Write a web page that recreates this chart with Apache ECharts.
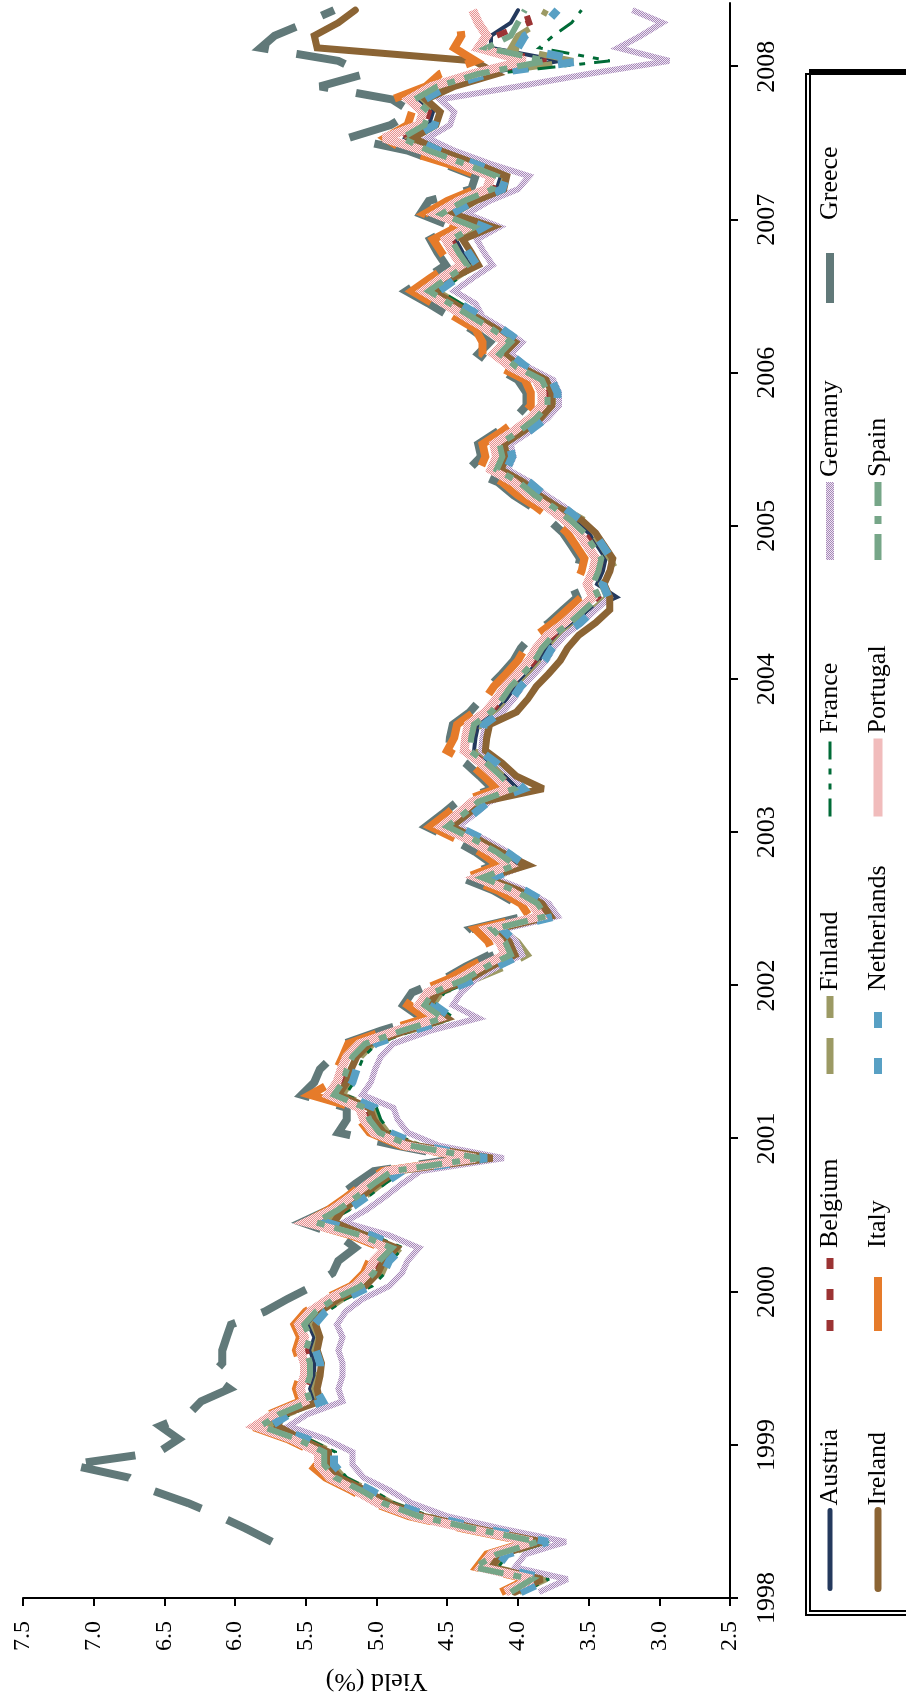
<!DOCTYPE html>
<html><head><meta charset="utf-8">
<script src="https://cdn.jsdelivr.net/npm/echarts@6/dist/echarts.min.js"></script>
<style>
html,body{margin:0;padding:0;width:906px;height:1702px;overflow:hidden;background:#fff;}
#chart{position:absolute;left:0;top:0;width:1702px;height:906px;transform-origin:0 0;transform:translateY(1702px) rotate(-90deg);}
</style></head>
<body><div id="chart"></div>
<script>
// ---- data (monthly yields, %, Jan 1998 .. May 2008) ----
const countries = ['Austria','Belgium','Finland','France','Germany','Greece','Ireland','Italy','Netherlands','Portugal','Spain'];
const firstMonth = '1998-01';
const yTickLabels = ['2.5','3.0','3.5','4.0','4.5','5.0','5.5','6.0','6.5','7.0','7.5'];

const austria = [4.02,3.83,4.19,4.12,3.83,4.28,4.67,4.92,5.08,5.26,
5.34,5.34,5.53,5.79,5.66,5.44,5.47,5.44,5.44,5.47,
5.44,5.48,5.40,5.27,5.08,4.99,4.95,4.86,5.08,5.44,
5.24,5.11,4.99,4.86,4.25,4.73,4.95,5.02,5.05,5.27,
5.21,5.18,5.14,5.05,4.79,4.50,4.63,4.57,4.35,4.19,
4.02,4.06,4.15,3.74,3.83,3.99,4.22,3.99,4.12,4.28,
4.47,4.35,4.25,4.00,4.09,4.19,4.31,4.30,4.28,4.16,
4.08,4.02,3.93,3.85,3.80,3.72,3.60,3.50,3.30,3.44,
3.40,3.38,3.44,3.50,3.60,3.72,3.85,3.96,4.12,4.08,
4.10,3.96,3.84,3.76,3.76,3.80,3.98,4.10,4.02,4.15,
4.30,4.45,4.60,4.47,4.33,4.39,4.44,4.28,4.51,4.35,
4.15,4.12,4.35,4.60,4.79,4.63,4.60,4.70,4.54,4.25,
3.70,4.19,4.19,4.05,4.00];

const belgium = [4.05,3.86,4.22,4.15,3.86,4.31,4.70,4.95,5.11,5.29,
5.37,5.37,5.56,5.82,5.69,5.47,5.50,5.47,5.47,5.50,
5.47,5.51,5.43,5.30,5.11,5.02,4.98,4.89,5.11,5.43,
5.27,5.14,5.02,4.89,4.28,4.76,4.98,5.05,5.08,5.30,
5.24,5.21,5.17,5.08,4.82,4.53,4.66,4.60,4.38,4.22,
4.05,4.09,4.18,3.80,3.86,4.02,4.25,4.02,4.15,4.31,
4.50,4.38,4.28,4.03,4.12,4.22,4.34,4.33,4.31,4.19,
4.11,4.05,3.96,3.88,3.83,3.75,3.63,3.53,3.43,3.47,
3.43,3.41,3.47,3.53,3.63,3.75,3.88,3.99,4.15,4.11,
4.13,3.99,3.87,3.79,3.79,3.83,4.01,4.13,4.05,4.18,
4.33,4.48,4.63,4.50,4.36,4.42,4.47,4.31,4.54,4.38,
4.18,4.15,4.38,4.63,4.82,4.66,4.63,4.73,4.57,4.28,
3.80,4.25,4.15,3.92,3.95];

const finland = [3.99,3.80,4.16,4.09,3.80,4.25,4.64,4.89,5.05,5.23,
5.31,5.31,5.50,5.76,5.63,5.41,5.44,5.41,5.41,5.44,
5.41,5.45,5.37,5.24,5.05,4.96,4.92,4.83,5.05,5.37,
5.21,5.08,4.96,4.83,4.22,4.70,4.92,4.99,5.02,5.24,
5.18,5.15,5.11,5.02,4.76,4.47,4.60,4.54,4.30,4.08,
3.93,4.00,4.12,3.74,3.80,3.96,4.19,3.96,4.09,4.25,
4.44,4.32,4.22,3.97,4.06,4.16,4.28,4.27,4.25,4.13,
4.05,3.99,3.90,3.82,3.77,3.69,3.57,3.47,3.37,3.41,
3.30,3.35,3.41,3.47,3.53,3.69,3.82,3.93,4.09,4.05,
4.07,3.93,3.81,3.73,3.73,3.77,3.95,4.07,3.99,4.12,
4.27,4.42,4.57,4.44,4.30,4.36,4.41,4.25,4.48,4.32,
4.12,4.09,4.32,4.57,4.76,4.60,4.57,4.67,4.51,4.22,
3.61,4.05,4.00,3.85,3.80];

const france = [3.97,3.78,4.14,4.07,3.78,4.23,4.62,4.87,5.03,5.21,
5.29,5.29,5.48,5.74,5.61,5.39,5.42,5.39,5.39,5.42,
5.39,5.43,5.35,5.22,5.03,4.94,4.90,4.81,5.03,5.35,
5.19,5.06,4.94,4.81,4.20,4.68,4.90,4.97,5.00,5.22,
5.16,5.13,5.09,5.00,4.74,4.45,4.58,4.52,4.30,4.14,
3.97,4.01,4.10,3.72,3.78,3.94,4.17,3.94,4.07,4.23,
4.42,4.30,4.20,3.95,4.04,4.14,4.26,4.25,4.23,4.11,
4.03,3.97,3.88,3.80,3.75,3.67,3.55,3.45,3.35,3.39,
3.35,3.33,3.39,3.45,3.55,3.67,3.80,3.91,4.07,4.03,
4.05,3.91,3.79,3.71,3.71,3.75,3.93,4.05,3.97,4.10,
4.25,4.40,4.55,4.42,4.28,4.34,4.39,4.23,4.46,4.30,
4.10,4.07,4.30,4.55,4.74,4.58,4.55,4.65,4.49,4.18,
3.35,3.85,3.75,3.62,3.55];

const germany = [3.85,3.65,4.02,3.95,3.66,4.11,4.50,4.75,4.91,5.09,
5.17,5.17,5.36,5.62,5.49,5.24,5.27,5.24,5.24,5.27,
5.24,5.28,5.22,5.10,4.91,4.82,4.78,4.70,4.91,5.23,
5.07,4.94,4.82,4.69,4.10,4.56,4.78,4.85,4.88,5.10,
5.04,5.01,4.97,4.88,4.62,4.28,4.46,4.40,4.30,4.14,
3.97,4.01,4.10,3.72,3.78,3.94,4.17,3.94,4.07,4.23,
4.42,4.30,4.20,3.95,4.04,4.14,4.26,4.25,4.23,4.11,
4.03,3.97,3.88,3.80,3.75,3.67,3.55,3.45,3.35,3.39,
3.35,3.33,3.39,3.45,3.55,3.67,3.80,3.91,4.07,4.03,
4.05,3.91,3.79,3.71,3.71,3.75,3.93,4.05,3.97,4.10,
4.25,4.30,4.45,4.32,4.18,4.24,4.29,4.13,4.36,4.20,
4.00,3.92,4.20,4.45,4.64,4.48,4.45,4.55,4.00,3.50,
2.93,3.29,3.13,2.98,3.19];

const greece = [null,null,null,null,5.74,5.92,6.11,6.33,6.59,6.75,
7.17,6.54,6.40,6.53,6.33,6.24,6.04,6.17,6.09,6.09,
6.06,6.03,5.79,5.63,5.45,5.31,5.27,5.15,5.27,5.53,
5.34,5.27,5.15,5.02,4.40,4.86,5.27,5.21,5.21,5.53,
5.44,5.40,5.31,5.23,4.97,4.68,4.81,4.75,4.53,4.37,
4.20,4.24,4.33,3.95,4.01,4.17,4.40,4.17,4.30,4.46,
4.65,4.53,4.43,4.18,4.27,4.37,4.49,4.48,4.46,4.34,
4.26,4.20,4.11,4.03,3.98,3.90,3.78,3.68,3.58,3.62,
3.58,3.56,3.62,3.68,3.78,3.90,4.03,4.14,4.35,4.26,
4.28,4.14,4.02,3.94,3.94,4.00,4.16,4.28,4.20,4.33,
4.48,4.63,4.79,4.65,4.51,4.57,4.62,4.46,4.69,4.63,
4.33,4.30,4.53,4.78,5.20,4.90,4.75,4.89,5.40,5.08,
5.27,5.82,5.72,5.50,5.30];

const ireland = [4.02,3.83,4.19,4.12,3.83,4.28,4.67,4.92,5.08,5.26,
5.34,5.34,5.53,5.70,5.66,5.40,5.42,5.40,5.39,5.42,
5.40,5.43,5.40,5.27,5.08,4.99,4.95,4.86,5.08,5.30,
5.24,5.11,4.99,4.86,4.18,4.73,4.95,5.02,5.05,5.27,
5.21,5.18,5.14,5.05,4.79,4.50,4.63,4.57,4.35,4.19,
4.02,4.06,4.15,3.77,3.83,3.99,4.22,3.93,4.12,4.28,
4.47,4.35,4.25,3.82,4.01,4.11,4.23,4.22,4.20,4.01,
3.93,3.87,3.78,3.70,3.65,3.57,3.45,3.35,3.35,3.39,
3.35,3.33,3.39,3.45,3.55,3.72,3.85,3.96,4.12,4.08,
4.10,3.96,3.84,3.76,3.76,3.80,3.98,4.10,4.02,4.15,
4.30,4.45,4.60,4.47,4.28,4.33,4.39,4.18,4.46,4.30,
4.10,4.08,4.30,4.55,4.74,4.58,4.55,4.65,4.45,4.15,
4.31,5.42,5.44,5.27,5.15];

const italy = [4.12,3.93,4.29,4.22,3.93,4.38,4.77,5.02,5.18,5.36,
5.47,5.44,5.63,5.89,5.76,5.54,5.57,5.54,5.54,5.57,
5.54,5.58,5.50,5.37,5.18,5.09,5.05,4.96,5.18,5.50,
5.34,5.21,5.09,4.96,4.33,4.83,5.05,5.12,5.15,5.47,
5.31,5.28,5.24,5.20,4.94,4.65,4.78,4.72,4.50,4.34,
4.17,4.21,4.30,3.92,3.98,4.14,4.37,4.14,4.27,4.43,
4.62,4.50,4.40,4.15,4.24,4.34,4.50,4.45,4.43,4.31,
4.23,4.17,4.08,4.00,3.95,3.87,3.75,3.65,3.55,3.59,
3.55,3.53,3.59,3.65,3.75,3.87,4.00,4.11,4.27,4.23,
4.25,4.11,3.99,3.91,3.91,3.95,4.13,4.25,4.25,4.30,
4.45,4.60,4.75,4.62,4.48,4.54,4.60,4.43,4.66,4.50,
4.30,4.27,4.50,4.80,4.94,4.78,4.75,4.89,4.65,4.55,
4.30,4.45,4.40,4.41,4.38];

const netherlands = [3.98,3.78,4.15,4.08,3.79,4.24,4.63,4.88,5.04,5.22,
5.30,5.30,5.49,5.75,5.62,5.38,5.43,5.40,5.40,5.43,
5.40,5.44,5.36,5.23,5.04,4.95,4.91,4.82,5.04,5.36,
5.20,5.07,4.95,4.82,4.22,4.69,4.91,4.98,5.01,5.23,
5.17,5.14,5.10,5.01,4.75,4.46,4.59,4.53,4.31,4.15,
3.98,4.02,4.11,3.73,3.79,3.95,4.18,3.95,4.08,4.24,
4.43,4.31,4.21,3.96,4.05,4.15,4.27,4.26,4.24,4.12,
4.04,3.98,3.89,3.81,3.76,3.68,3.56,3.46,3.36,3.40,
3.36,3.34,3.40,3.46,3.56,3.68,3.81,3.92,4.08,4.04,
4.06,3.92,3.80,3.72,3.72,3.76,3.94,4.06,3.98,4.11,
4.26,4.41,4.56,4.43,4.29,4.35,4.40,4.24,4.47,4.31,
4.11,4.08,4.31,4.56,4.75,4.59,4.56,4.66,4.50,4.21,
3.54,4.00,3.95,3.80,3.72];

const portugal = [4.09,3.90,4.26,4.19,3.90,4.35,4.74,4.99,5.15,5.33,
5.41,5.41,5.60,5.86,5.73,5.51,5.54,5.51,5.51,5.54,
5.51,5.55,5.47,5.34,5.15,5.06,5.02,4.93,5.15,5.50,
5.31,5.18,5.06,4.93,4.30,4.80,5.02,5.09,5.12,5.34,
5.28,5.25,5.21,5.12,4.86,4.57,4.70,4.64,4.42,4.26,
4.09,4.13,4.22,3.84,3.90,4.06,4.29,4.06,4.19,4.35,
4.54,4.42,4.32,4.07,4.16,4.26,4.38,4.37,4.35,4.23,
4.15,4.09,4.00,3.92,3.87,3.79,3.67,3.57,3.47,3.51,
3.47,3.45,3.51,3.57,3.67,3.79,3.92,4.03,4.19,4.15,
4.17,4.03,3.91,3.83,3.83,3.87,4.05,4.17,4.09,4.22,
4.37,4.52,4.67,4.54,4.40,4.46,4.51,4.35,4.58,4.42,
4.22,4.19,4.42,4.67,4.95,4.70,4.67,4.77,4.61,4.32,
3.95,4.28,4.22,4.28,4.32];

const spain = [4.05,3.90,4.31,4.15,3.86,4.31,4.70,4.95,5.11,5.29,
5.37,5.37,5.56,5.82,5.69,5.47,5.50,5.47,5.47,5.50,
5.47,5.51,5.43,5.30,5.11,5.02,4.98,4.89,5.11,5.43,
5.27,5.14,5.02,4.89,4.27,4.76,4.98,5.05,5.08,5.30,
5.24,5.21,5.17,5.08,4.82,4.53,4.66,4.60,4.38,4.22,
4.05,4.09,4.18,3.80,3.86,4.02,4.25,4.02,4.15,4.31,
4.50,4.38,4.28,4.03,4.12,4.22,4.34,4.33,4.31,4.19,
4.11,4.05,3.96,3.88,3.83,3.75,3.63,3.53,3.43,3.47,
3.43,3.41,3.47,3.53,3.63,3.75,3.88,3.99,4.15,4.11,
4.13,3.99,3.87,3.79,3.79,3.83,4.01,4.13,4.05,4.18,
4.33,4.48,4.63,4.50,4.36,4.42,4.47,4.31,4.54,4.38,
4.18,4.15,4.38,4.63,4.82,4.66,4.63,4.73,4.57,4.28,
3.80,4.22,4.05,4.00,3.95];

const seriesValues = {Austria:austria, Belgium:belgium, Finland:finland, France:france, Germany:germany, Greece:greece, Ireland:ireland, Italy:italy, Netherlands:netherlands, Portugal:portugal, Spain:spain};

// month stamps (mid-month) for each observation
const months = [];
(function(){ const y0 = +firstMonth.slice(0,4); for (let k = 0; k < austria.length; k++) { const y = y0 + Math.floor(k/12), m = k%12 + 1; months.push(y + '-' + String(m).padStart(2,'0') + '-15'); } })();

// ---- styles ----
function texture(bg, fg){
  const c = document.createElement('canvas'); c.width = 4; c.height = 4;
  const g = c.getContext('2d'); g.fillStyle = bg; g.fillRect(0,0,4,4); g.fillStyle = fg;
  for (let i=0;i<4;i++) for (let j=0;j<4;j++) if ((i+j)%2===0) g.fillRect(i,j,1,1);
  return {image:c, repeat:'repeat'};
}
const styles = {
  Austria:{color:'#24395d', width:4, type:'solid', cap:'round', lw:5},
  Belgium:{color:'#9b3333', width:6, type:[11,20], cap:'butt', lw:7},
  Finland:{color:'#9c9a64', width:6, type:[36,20], cap:'butt', lw:7},
  France:{color:'#006b37', width:3, type:[18,9,6,9,6,9], cap:'butt', lw:3},
  Germany:{color:texture('#efe5f3','#a689b8'), width:6, type:'solid', cap:'butt', lw:8},
  Greece:{color:'#617979', width:8, type:[50,28], cap:'butt', lw:8},
  Ireland:{color:'#8b6434', width:7, type:'solid', cap:'round', lw:7},
  Italy:{color:'#e67b2a', width:8, type:[54,26], cap:'butt', lw:8},
  Netherlands:{color:'#58a0c4', width:8, type:[16,30], cap:'butt', lw:8},
  Portugal:{color:texture('#fce9e9','#e69090'), width:9, type:'solid', cap:'butt', lw:9},
  Spain:{color:'#76a688', width:6, type:[26,10,8,10], cap:'butt', lw:7}
};
const FONT = 'Liberation Serif';
const legendCols = [['Austria','Ireland'],['Belgium','Italy'],['Finland','Netherlands'],['France','Portugal'],['Germany','Spain'],['Greece']];

const chart = echarts.init(document.getElementById('chart'), null, {renderer:'canvas'});
const series = countries.map(n => ({
  type:'line', name:n, showSymbol:false, symbol:'none', connectNulls:false, silent:true,
  data: months.map((d,i) => [d, seriesValues[n][i]]),
  itemStyle:{color: styles[n].color},
  lineStyle:{color: styles[n].color, width: styles[n].width, type: styles[n].type, cap: styles[n].cap, join:'miter', miterLimit:3},
  emphasis:{disabled:true}
}));

chart.setOption({
  animation:false,
  backgroundColor:'#fff',
  grid:{left:97, right:3, top:23, bottom:176, containLabel:false},
  xAxis:{
    type:'time', min:'1998-01-01', max:'2008-06-01', splitNumber:11,
    minInterval:365*864e5, maxInterval:366*864e5,
    axisLine:{show:true, lineStyle:{color:'#000', width:2}},
    axisTick:{show:true, length:8, lineStyle:{color:'#000', width:2}},
    axisLabel:{formatter:(v)=>String(new Date(v).getFullYear()), fontFamily:FONT, fontSize:26, color:'#000', margin:24},
    splitLine:{show:false}
  },
  yAxis:{
    type:'value', min:2.5, max:7.5, interval:0.5,
    name:'Yield (%)', nameLocation:'middle', nameRotate:90, nameGap:70,
    nameTextStyle:{fontFamily:FONT, fontSize:26, color:'#000'},
    axisLine:{show:true, lineStyle:{color:'#000', width:2}},
    axisTick:{show:true, length:8, lineStyle:{color:'#000', width:2}},
    axisLabel:{formatter:(v)=>yTickLabels[Math.round((v-2.5)/0.5)] || v.toFixed(1), fontFamily:FONT, fontSize:24, color:'#000', margin:23},
    splitLine:{show:false}
  },
  legend: legendCols.map((names,c) => ({
    orient:'vertical', left:110+257*c, top:815, padding:0,
    itemWidth:78, itemHeight:14, itemGap:18, selectedMode:false,
    textStyle:{fontFamily:FONT, fontSize:26, lineHeight:30, color:'#000'},
    data: names.map(n => ({name:n, lineStyle:{width:styles[n].lw}, itemStyle:{color:'rgba(0,0,0,0)', borderWidth:0, opacity:0}}))
  })),
  graphic:[{
    type:'rect', z:0, silent:true,
    shape:{x:87, y:806, width:1541, height:200},
    style:{fill:'#fff', stroke:'#000', lineWidth:2, shadowColor:'#000', shadowOffsetX:4, shadowOffsetY:4, shadowBlur:0}
  }],
  series: series
});
</script>
</body></html>
